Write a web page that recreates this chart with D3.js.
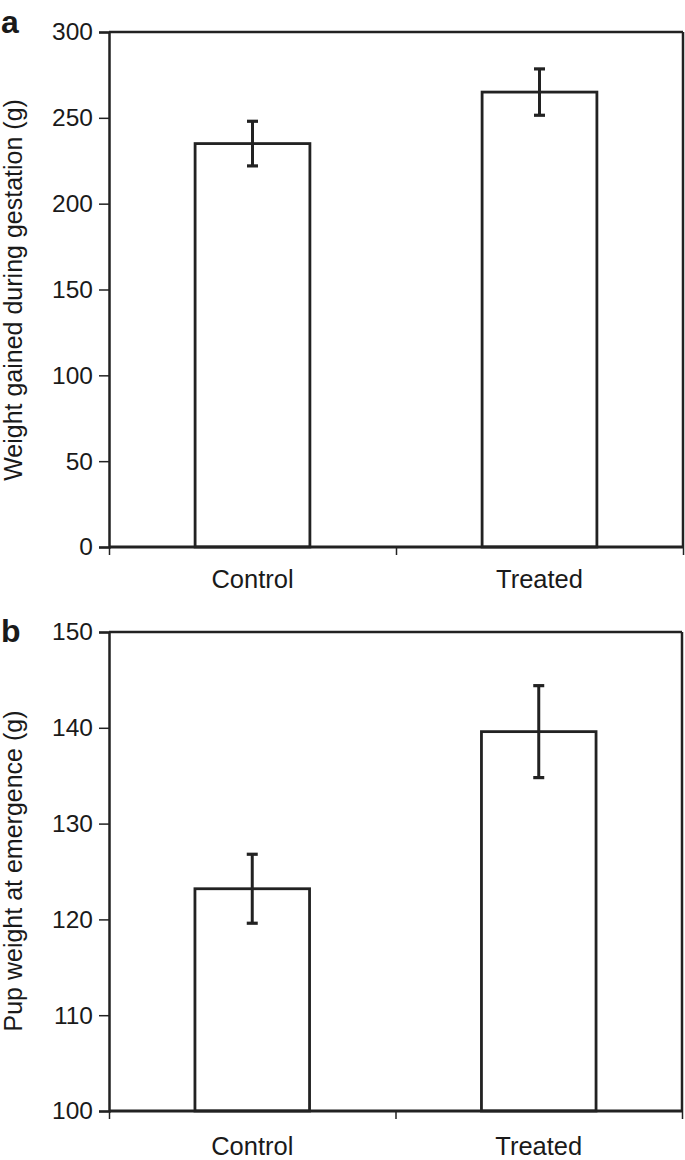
<!DOCTYPE html>
<html>
<head>
<meta charset="utf-8">
<script src="https://cdn.jsdelivr.net/npm/d3@7"></script>
<style>
  html, body { margin: 0; padding: 0; background: #fff; }
  svg { display: block; }
  text { font-family: "Liberation Sans", Arial, Helvetica, sans-serif; fill: #1a1a1a; }
</style>
</head>
<body>
<svg id="chart" width="685" height="1160"></svg>
<script>
// ---- data ----
const categories = ["Control", "Treated"];
const weightGained = [235, 265];
const weightGainedErr = [13, 13.5];
const pupWeight = [123.2, 139.6];
const pupWeightErr = [3.6, 4.8];
const ticksA = [0, 50, 100, 150, 200, 250, 300];
const ticksB = [100, 110, 120, 130, 140, 150];

const svg = d3.select("#chart");
const ink = "#222";

function panel(opts) {
  const { letter, letterY, top, bottom, left, right, domain, ticks, values, errs, ylabel, labelY, catDy } = opts;
  const g = svg.append("g");
  const x = d3.scaleBand().domain(categories).range([left, right]).paddingInner(0.6).paddingOuter(0.3);
  const y = d3.scaleLinear().domain(domain).range([bottom, top]);

  // frame top/right
  g.append("line").attr("x1", left).attr("x2", right).attr("y1", top).attr("y2", top)
    .attr("stroke", ink).attr("stroke-width", 2.5);
  g.append("line").attr("x1", right).attr("x2", right).attr("y1", top).attr("y2", bottom)
    .attr("stroke", ink).attr("stroke-width", 2.5);

  // bars
  g.selectAll("rect.bar").data(values).enter().append("rect")
    .attr("x", (d, i) => x(categories[i]))
    .attr("width", x.bandwidth())
    .attr("y", d => y(d))
    .attr("height", d => y(domain[0]) - y(d))
    .attr("fill", "#fff").attr("stroke", ink).attr("stroke-width", 2.8);

  // error bars
  const eb = g.selectAll("g.err").data(values).enter().append("g");
  eb.append("line")
    .attr("x1", (d, i) => x(categories[i]) + x.bandwidth() / 2)
    .attr("x2", (d, i) => x(categories[i]) + x.bandwidth() / 2)
    .attr("y1", (d, i) => y(d + errs[i]))
    .attr("y2", (d, i) => y(d - errs[i]))
    .attr("stroke", ink).attr("stroke-width", 3);
  [1, -1].forEach(s => {
    eb.append("line")
      .attr("x1", (d, i) => x(categories[i]) + x.bandwidth() / 2 - 5.5)
      .attr("x2", (d, i) => x(categories[i]) + x.bandwidth() / 2 + 5.5)
      .attr("y1", (d, i) => y(d + s * errs[i]))
      .attr("y2", (d, i) => y(d + s * errs[i]))
      .attr("stroke", ink).attr("stroke-width", 3.2);
  });

  // y axis
  const ya = d3.axisLeft(y).tickValues(ticks).tickSize(10).tickPadding(6).tickFormat(d3.format("d"));
  const yg = g.append("g").attr("transform", `translate(${left},0)`).call(ya);
  yg.select(".domain").attr("stroke", ink).attr("stroke-width", 2.5);
  yg.selectAll(".tick line").attr("stroke", ink).attr("stroke-width", 1.5);
  yg.selectAll(".tick text").attr("font-size", 24.5).attr("fill", "#1a1a1a")
    .attr("font-family", "Liberation Sans, Arial, sans-serif");

  // x axis baseline with ticks at edges and middle
  const xl = d3.scaleLinear().domain([0, 2]).range([left, right]);
  const xa = d3.axisBottom(xl).tickValues([0, 1, 2]).tickSize(8).tickFormat("");
  const xg = g.append("g").attr("transform", `translate(0,${bottom})`).call(xa);
  xg.select(".domain").attr("stroke", ink).attr("stroke-width", 3).attr("d", `M${left},0H${right}`);
  xg.selectAll(".tick line").attr("stroke", ink).attr("stroke-width", 1.5);

  // category labels
  g.selectAll("text.cat").data(categories).enter().append("text")
    .attr("x", d => x(d) + x.bandwidth() / 2)
    .attr("y", bottom + catDy)
    .attr("text-anchor", "middle").attr("font-size", 25.5)
    .text(d => d);

  // y label
  g.append("text")
    .attr("transform", `translate(22,${labelY}) rotate(-90)`)
    .attr("text-anchor", "middle").attr("font-size", 25)
    .text(ylabel);

  // panel letter
  g.append("text").attr("x", 1).attr("y", letterY)
    .attr("font-size", 32).attr("font-weight", "bold").attr("fill", "#111")
    .text(letter);
}

panel({ letter: "a", letterY: 33, top: 32, bottom: 547, left: 109, right: 683, domain: [0, 300], ticks: ticksA,
  values: weightGained, errs: weightGainedErr, ylabel: "Weight gained during gestation (g)", labelY: 290, catDy: 41 });
panel({ letter: "b", letterY: 642, top: 632, bottom: 1111, left: 109, right: 682, domain: [100, 150], ticks: ticksB,
  values: pupWeight, errs: pupWeightErr, ylabel: "Pup weight at emergence (g)", labelY: 871, catDy: 44 });
</script>
</body>
</html>
